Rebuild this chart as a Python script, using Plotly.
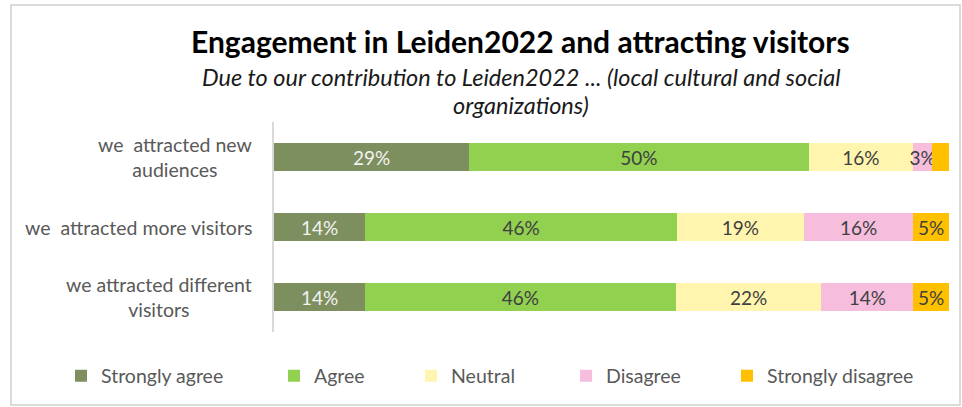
import plotly.graph_objects as go

categories = ["we  attracted new<br>audiences", "we  attracted more visitors", "we attracted different<br>visitors"]
series_names = ["Strongly agree", "Agree", "Neutral", "Disagree", "Strongly disagree"]
strongly_agree = [28.9, 13.5, 13.5]
agree = [50.3, 46.2, 46.0]
neutral = [15.5, 18.8, 21.6]
disagree = [2.8, 16.2, 13.6]
strongly_disagree = [2.5, 5.3, 5.3]
label_shown = [[True, True, True], [True, True, True], [True, True, True], [True, True, True], [False, True, True]]

colors = ["#7D8F5E", "#92D050", "#FFF5AF", "#F6BDDD", "#FFC000"]
text_colors = ["#F2F2F2", "#404040", "#404040", "#404040", "#404040"]
legend_left_px = [61, 274, 411, 566, 727]

FONT = "Lato"
W, H = 962, 407
L, R, T, B = 274, 13, 122, 75
pw, ph = W - L - R, H - T - B

def px_x(px):
    return (px - L) / pw

def px_y(py):
    return (H - B - py) / ph

fig = go.Figure()
all_series = [strongly_agree, agree, neutral, disagree, strongly_disagree]
for i, (name, vals) in enumerate(zip(series_names, all_series)):
    texts = [f"{v:.0f}%" if show else "" for v, show in zip(vals, label_shown[i])]
    lg = "legend" if i == 0 else f"legend{i+1}"
    fig.add_trace(go.Bar(
        y=categories, x=vals, name=name, orientation="h",
        marker=dict(color=colors[i], line=dict(width=0)),
        text=texts, textposition="inside", insidetextanchor="middle",
        textangle=0, constraintext="none", cliponaxis=False,
        textfont=dict(family=FONT, size=19, color=text_colors[i]),
        legend=lg, hoverinfo="skip",
    ))

layout_legends = {}
for i in range(5):
    key = "legend" if i == 0 else f"legend{i+1}"
    layout_legends[key] = dict(
        x=px_x(legend_left_px[i]), xanchor="left",
        y=px_y(376), yanchor="middle",
        orientation="h", bgcolor="rgba(0,0,0,0)",
        font=dict(family=FONT, size=19.5, color="#595959"),
    )

annotations = [
    dict(text="<b>Engagement in Leiden2022 and attracting visitors</b>",
         x=px_x(520), y=px_y(41), xref="paper", yref="paper",
         xanchor="center", yanchor="middle", showarrow=False,
         font=dict(family=FONT, size=30, color="#000000")),
    dict(text="<i>Due to our contribution to Leiden2022 ... (local cultural and social</i>",
         x=px_x(521), y=px_y(76.5), xref="paper", yref="paper",
         xanchor="center", yanchor="middle", showarrow=False,
         font=dict(family=FONT, size=23.5, color="#1a1a1a")),
    dict(text="<i>organizations)</i>",
         x=px_x(521), y=px_y(105), xref="paper", yref="paper",
         xanchor="center", yanchor="middle", showarrow=False,
         font=dict(family=FONT, size=23.5, color="#1a1a1a")),
]
for c in categories:
    annotations.append(dict(
        text=c, x=px_x(254), y=c, xref="paper", yref="y",
        xanchor="right", yanchor="middle", align="center", showarrow=False,
        font=dict(family=FONT, size=19.5, color="#595959")))

fig.update_layout(
    width=W, height=H,
    margin=dict(l=L, r=R, t=T, b=B, autoexpand=False),
    barmode="stack", bargap=0.6,
    paper_bgcolor="white", plot_bgcolor="white",
    showlegend=True,
    annotations=annotations,
    shapes=[dict(type="rect", xref="paper", yref="paper",
                 x0=px_x(11), x1=px_x(960), y0=px_y(405), y1=px_y(5),
                 line=dict(color="#D0D0D0", width=1.5), layer="below")],
    **layout_legends,
)
fig.update_xaxes(range=[0, 100], showticklabels=False, showgrid=False,
                 zeroline=False, showline=False, fixedrange=True)
fig.update_yaxes(autorange="reversed", showticklabels=False, showgrid=False,
                 zeroline=False, showline=True, linecolor="#D9D9D9", linewidth=1.5,
                 ticks="", fixedrange=True)

fig.write_html("out.html", config={"displayModeBar": False},
               post_script="document.body.style.margin='0';")
